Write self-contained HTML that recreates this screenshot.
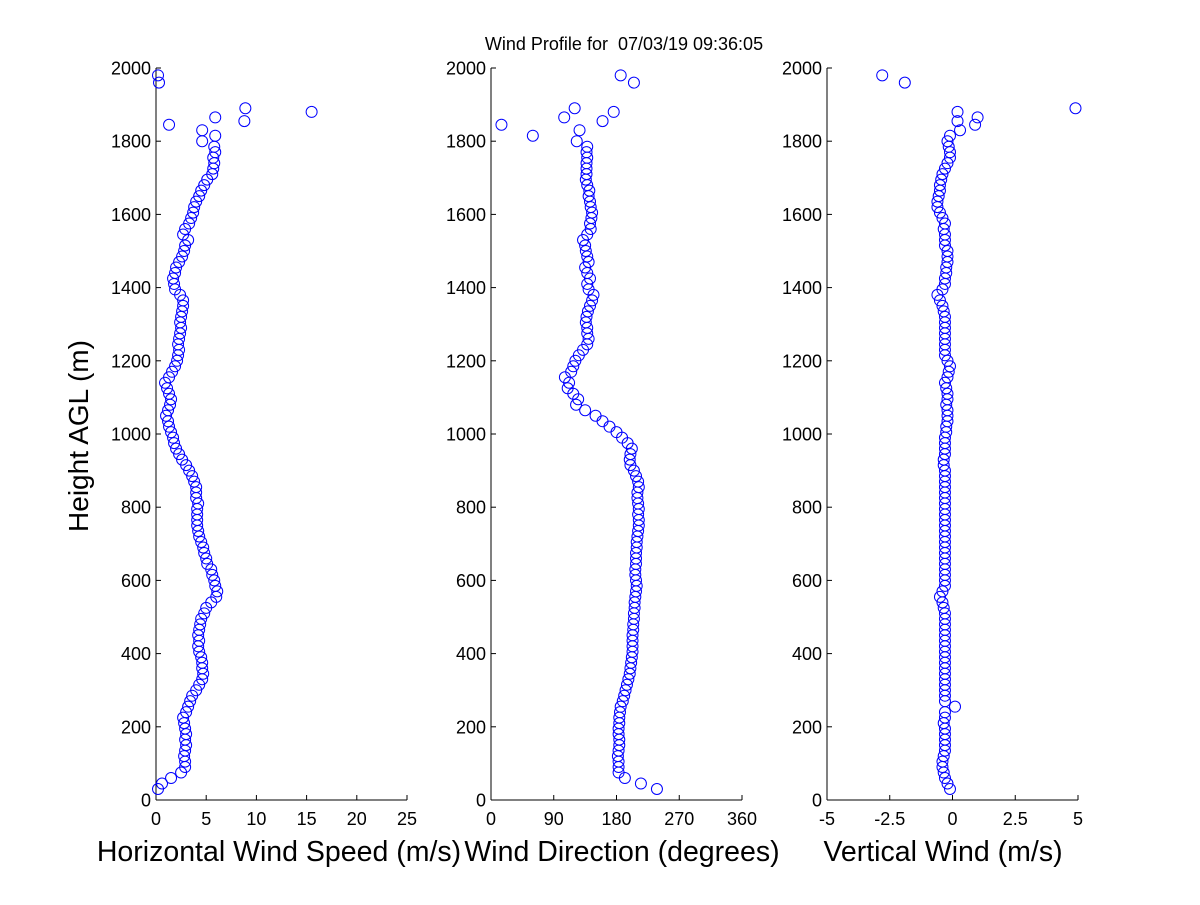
<!DOCTYPE html>
<html><head><meta charset="utf-8"><style>
html,body{margin:0;padding:0;background:#fff;}
svg text{font-family:"Liberation Sans",Arial,sans-serif;fill:#000;}
</style></head><body>
<svg id="chart" width="1200" height="900" viewBox="0 0 1200 900" xmlns="http://www.w3.org/2000/svg">
<rect width="1200" height="900" fill="#fff"/>
<text x="624" y="50" font-size="18" text-anchor="middle" xml:space="preserve">Wind Profile for  07/03/19 09:36:05</text>
<text transform="translate(88,436) rotate(-90)" font-size="28" text-anchor="middle">Height AGL (m)</text>
</svg>
<script>
const heights=[30,45,60,75,90,105,120,135,150,165,180,195,210,225,240,255,270,285,300,315,330,345,360,375,390,405,420,435,450,465,480,495,510,525,540,555,570,585,600,615,630,645,660,675,690,705,720,735,750,765,780,795,810,825,840,855,870,885,900,915,930,945,960,975,990,1005,1020,1035,1050,1065,1080,1095,1110,1125,1140,1155,1170,1185,1200,1215,1230,1245,1260,1275,1290,1305,1320,1335,1350,1365,1380,1395,1410,1425,1440,1455,1470,1485,1500,1515,1530,1545,1560,1575,1590,1605,1620,1635,1650,1665,1680,1695,1710,1725,1740,1755,1770,1785,1800,1815,1830,1845,1855,1865,1880,1890,1960,1980];
const speed=[0.2,0.6,1.5,2.5,2.9,2.9,2.8,2.9,3.0,2.9,3.0,2.9,2.8,2.7,3.0,3.2,3.4,3.6,4.0,4.3,4.6,4.7,4.6,4.6,4.5,4.3,4.2,4.3,4.2,4.3,4.4,4.5,4.8,5.0,5.5,6.0,6.1,5.9,5.8,5.6,5.5,5.1,5.0,4.8,4.7,4.5,4.3,4.2,4.1,4.1,4.1,4.1,4.2,4.0,4.0,4.0,3.8,3.6,3.3,3.0,2.6,2.3,2.0,1.8,1.7,1.5,1.3,1.2,1.0,1.2,1.4,1.5,1.3,1.1,0.9,1.3,1.6,1.9,2.1,2.2,2.3,2.2,2.3,2.4,2.5,2.4,2.5,2.6,2.7,2.7,2.4,1.9,1.8,1.7,1.9,2.0,2.3,2.6,2.8,2.9,3.2,2.7,2.9,3.3,3.5,3.7,3.8,4.0,4.3,4.5,4.8,5.1,5.6,5.7,5.8,5.7,5.9,5.8,4.6,5.9,4.6,1.3,8.8,5.9,15.5,8.9,0.3,0.2];
const direction=[238,215,192,183,183,183,182,183,184,184,183,183,184,184,185,186,189,191,193,195,197,199,200,201,202,203,203,203,203,204,204,205,205,206,206,207,208,209,208,207,207,208,208,208,209,209,210,211,212,212,211,212,211,210,210,212,211,208,205,200,199,200,202,196,188,180,170,160,150,135,122,125,118,110,112,106,115,118,121,126,132,138,140,138,138,136,137,139,142,145,147,140,138,142,138,135,140,138,136,135,132,138,143,142,144,145,143,142,140,141,138,136,137,137,137,138,137,138,123,60,127,15,160,105,176,120,205,186];
const vertical=[-0.1,-0.2,-0.3,-0.35,-0.4,-0.4,-0.35,-0.3,-0.3,-0.3,-0.3,-0.3,-0.35,-0.3,-0.3,0.1,-0.3,-0.3,-0.3,-0.3,-0.3,-0.3,-0.3,-0.3,-0.3,-0.3,-0.3,-0.3,-0.3,-0.3,-0.3,-0.3,-0.3,-0.35,-0.4,-0.5,-0.4,-0.3,-0.3,-0.3,-0.3,-0.3,-0.3,-0.3,-0.3,-0.3,-0.3,-0.3,-0.3,-0.3,-0.3,-0.3,-0.3,-0.3,-0.3,-0.3,-0.3,-0.3,-0.3,-0.35,-0.35,-0.3,-0.3,-0.3,-0.3,-0.25,-0.25,-0.2,-0.2,-0.2,-0.25,-0.2,-0.2,-0.25,-0.3,-0.2,-0.15,-0.1,-0.2,-0.3,-0.3,-0.3,-0.3,-0.3,-0.3,-0.3,-0.3,-0.35,-0.4,-0.5,-0.6,-0.4,-0.3,-0.3,-0.25,-0.25,-0.2,-0.2,-0.2,-0.3,-0.3,-0.3,-0.35,-0.3,-0.4,-0.5,-0.6,-0.6,-0.55,-0.5,-0.5,-0.45,-0.4,-0.3,-0.2,-0.1,-0.1,-0.15,-0.2,-0.1,0.3,0.9,0.2,1.0,0.2,4.9,-1.9,-2.8];
const yTicks=[0,200,400,600,800,1000,1200,1400,1600,1800,2000];
const speedTicks=[0,5,10,15,20,25];
const dirTicks=[0,90,180,270,360];
const wTicks=[-5,-2.5,0,2.5,5];
const wTickLabels=["-5","-2.5","0","2.5","5"];

const svg=document.getElementById('chart');
const NS='http://www.w3.org/2000/svg';
const yTop=68,yBot=800;
function yScale(h){return yBot-(h/2000)*(yBot-yTop);}
function mk(tag,attrs){const e=document.createElementNS(NS,tag);for(const k in attrs)e.setAttribute(k,attrs[k]);return e;}

const panels=[
 {x0:156,x1:407,min:0,max:25,ticks:speedTicks,labels:speedTicks.map(String),vals:speed,title:"Horizontal Wind Speed (m/s)",tx:279,name:'speed'},
 {x0:491,x1:742,min:0,max:360,ticks:dirTicks,labels:dirTicks.map(String),vals:direction,title:"Wind Direction (degrees)",tx:622,name:'direction'},
 {x0:827,x1:1078,min:-5,max:5,ticks:wTicks,labels:wTickLabels,vals:vertical,title:"Vertical Wind (m/s)",tx:943,name:'vertical'}
];
panels.forEach(p=>{
 const g=mk('g',{});
 
 
 svg.appendChild(g);
 const xs=v=>p.x0+(v-p.min)/(p.max-p.min)*(p.x1-p.x0);
 const ya=mk('line',{x1:p.x0,y1:yTop,x2:p.x0,y2:yBot,stroke:'#000','stroke-width':1});
 
 
 g.appendChild(ya);
 const xa=mk('line',{x1:p.x0,y1:yBot,x2:p.x1,y2:yBot,stroke:'#000','stroke-width':1});
 
 
 g.appendChild(xa);
 yTicks.forEach(t=>{
  const y=yScale(t);
  g.appendChild(mk('line',{x1:p.x0,y1:y,x2:p.x0+5,y2:y,stroke:'#000'}));
  const tx=mk('text',{x:p.x0-5,y:y+6.5,'font-size':18,'text-anchor':'end'});
  tx.textContent=t;
  
  
  g.appendChild(tx);
 });
 p.ticks.forEach((t,i)=>{
  const x=xs(t);
  g.appendChild(mk('line',{x1:x,y1:yBot,x2:x,y2:yBot-5,stroke:'#000'}));
  const tx=mk('text',{x:x,y:yBot+25,'font-size':18,'text-anchor':'middle'});
  tx.textContent=p.labels[i];
  
  
  g.appendChild(tx);
 });
 const tt=mk('text',{x:p.tx,y:861,'font-size':28.5,'text-anchor':'middle'});
 tt.textContent=p.title;
 
 
 g.appendChild(tt);
 heights.forEach((h,i)=>{
  const c=mk('circle',{cx:xs(p.vals[i]),cy:yScale(h),r:5.5,fill:'none',stroke:'#0000ff','stroke-width':1});
  
  
  g.appendChild(c);
 });
});
</script>
</body></html>
